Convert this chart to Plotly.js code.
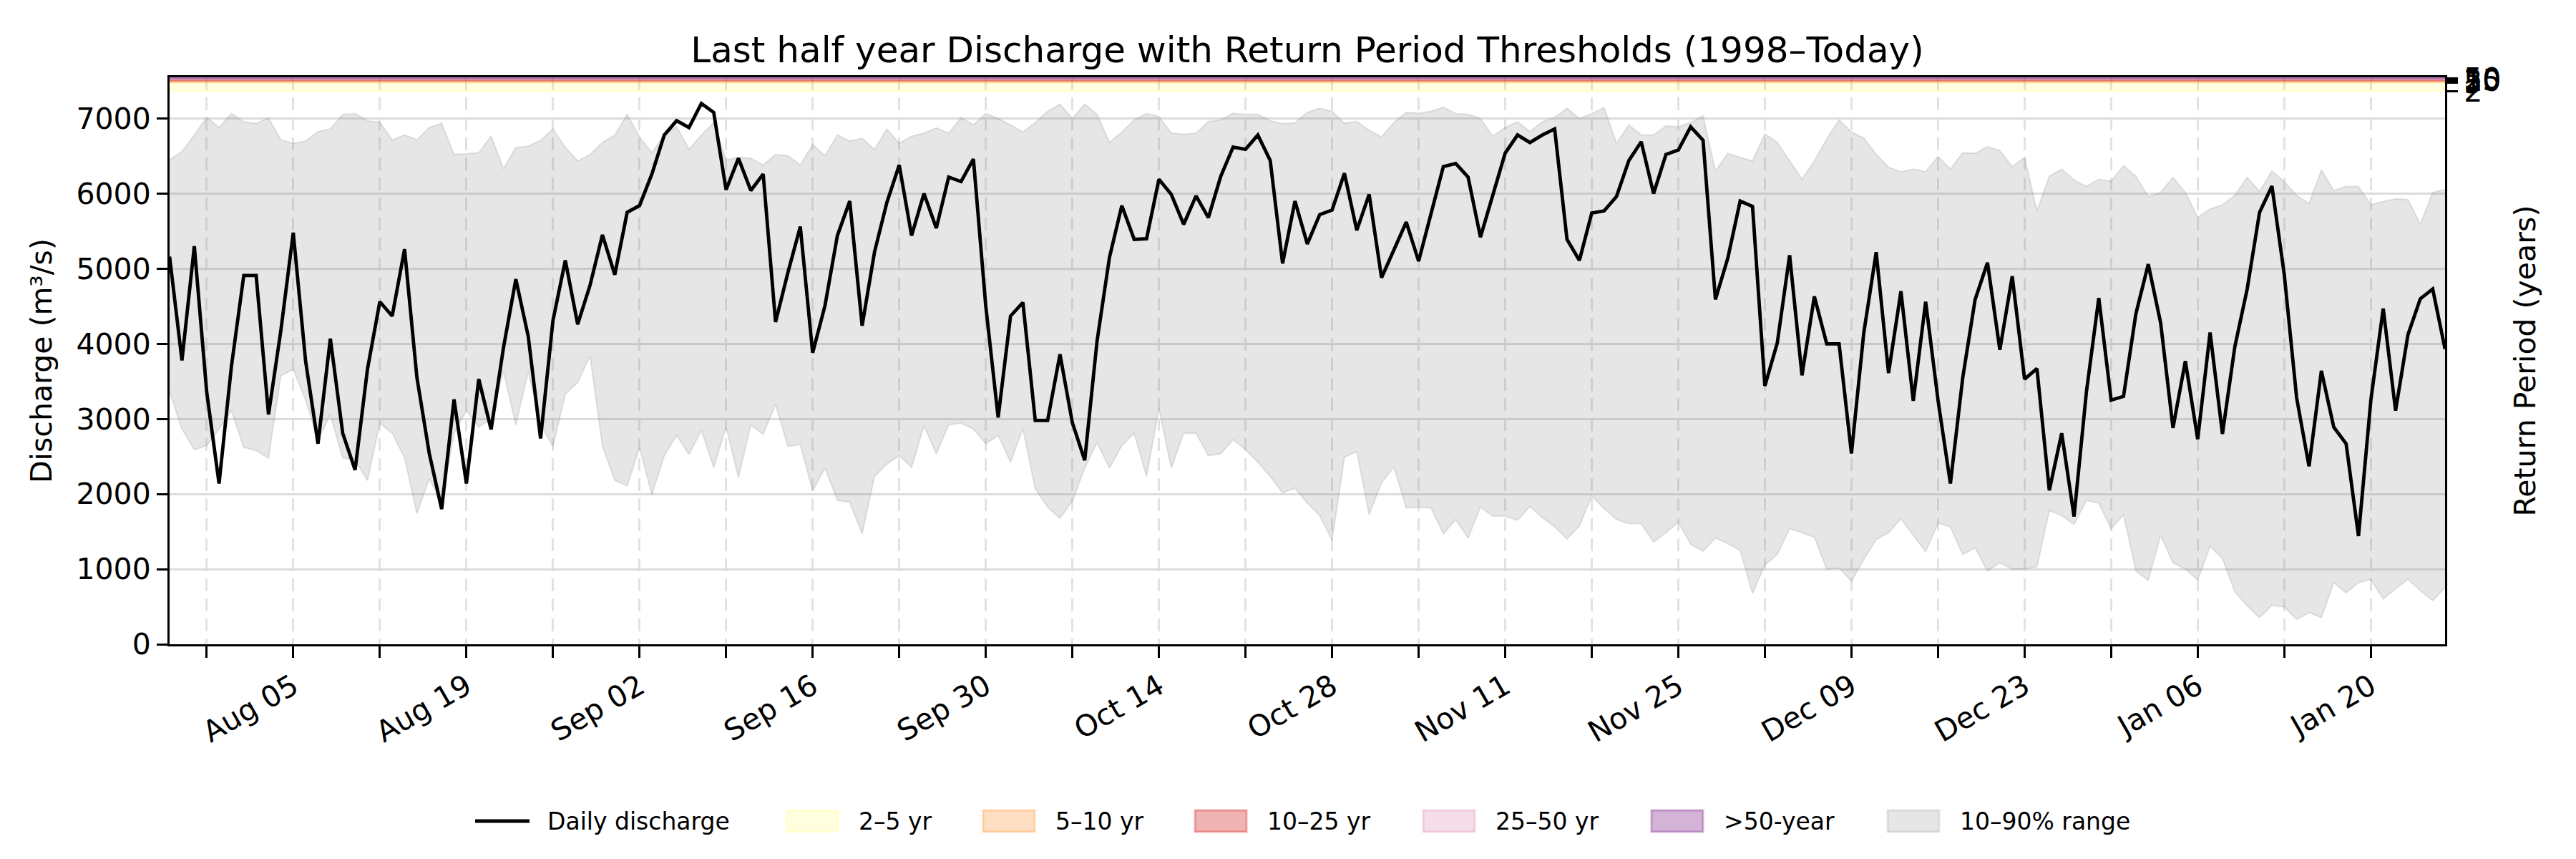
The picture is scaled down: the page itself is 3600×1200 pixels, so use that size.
<!DOCTYPE html>
<html>
<head>
<meta charset="utf-8">
<script src="https://cdn.plot.ly/plotly-3.0.1.min.js"></script>
<style>
  html, body { margin: 0; padding: 0; background: #fff; }
  #chart { width: 3600px; height: 1200px; }
</style>
</head>
<body>
<div id="chart"></div>
<script>
// daily values, first day 2024-07-26
var startDate = "2024-07-26";

var discharge = [
  5160, 3780, 5300, 3360, 2140, 3700, 4910, 4910, 3060, 4180,
  5480, 3770, 2670, 4070, 2810, 2320, 3660, 4560, 4370, 5260,
  3550, 2540, 1800, 3260, 2140, 3530, 2860, 3950, 4860, 4100,
  2740, 4310, 5110, 4260, 4780, 5450, 4920, 5750, 5840, 6260,
  6780, 6970, 6880, 7200, 7080, 6050, 6470, 6040, 6260, 4290,
  4950, 5560, 3880, 4510, 5440, 5900, 4240, 5220, 5880, 6380,
  5440, 6000, 5540, 6220, 6160, 6460, 4500, 3020, 4370, 4550,
  2980, 2980, 3860, 2950, 2450, 4040, 5150, 5840, 5390, 5400,
  6190, 5990, 5590, 5970, 5680, 6230, 6620, 6590, 6780, 6440,
  5070, 5900, 5330, 5720, 5780, 6270, 5510, 5990, 4880, 5250,
  5620, 5100, 5730, 6360, 6400, 6220, 5420, 5990, 6540, 6780,
  6680, 6780, 6860, 5390, 5110, 5740, 5770, 5960, 6440, 6690,
  6000, 6520, 6580, 6890, 6710, 4590, 5140, 5900, 5830, 3440,
  4010, 5180, 3580, 4630, 4000, 4000, 2540, 4150, 5220, 3610,
  4700, 3240, 4560, 3250, 2140, 3550, 4590, 5080, 3920, 4900,
  3530, 3670, 2050, 2810, 1700, 3360, 4610, 3250, 3300, 4400,
  5060, 4280, 2880, 3770, 2730, 4150, 2800, 3960, 4730, 5750,
  6100, 4920, 3280, 2370, 3640, 2890, 2670, 1440, 3250, 4470,
  3110, 4120, 4600, 4730, 3930
];

var p90 = [
  6450, 6560, 6780, 7015, 6880, 7065, 6955, 6935, 7010, 6715,
  6670, 6700, 6825, 6860, 7055, 7065, 6970, 6950, 6715, 6780,
  6715, 6880, 6935, 6520, 6530, 6545, 6765, 6330, 6615, 6630,
  6710, 6860, 6615, 6435, 6520, 6680, 6780, 7055, 6755, 6545,
  6780, 6890, 6590, 6780, 6945, 6450, 6480, 6470, 6380, 6520,
  6505, 6380, 6655, 6505, 6780, 6700, 6735, 6590, 6860, 6670,
  6765, 6805, 6875, 6805, 7010, 6915, 7065, 7000, 6915, 6820,
  6945, 7095, 7190, 7000, 7190, 7055, 6680, 6820, 6980, 7065,
  7025, 6805, 6790, 6805, 6960, 6980, 7070, 7055, 7055, 6970,
  6930, 6940, 7080, 7135, 7095, 6935, 6960, 6845, 6755, 6945,
  7080, 7070, 7095, 7150, 7065, 7055, 7000, 6765, 6880, 6955,
  6825, 6955, 7015, 7135, 7000, 7065, 7145, 6670, 6915, 6780,
  6780, 6900, 6890, 6945, 7035, 6300, 6535, 6480, 6435, 6795,
  6680, 6435, 6195, 6435, 6725, 6980, 6820, 6740, 6525, 6350,
  6290, 6325, 6290, 6495, 6325, 6545, 6535, 6625, 6570, 6360,
  6480, 5770, 6230, 6325, 6180, 6095, 6190, 6165, 6370, 6230,
  5960, 6015, 6215, 6015, 5685, 5795, 5850, 5975, 6215, 6030,
  6300, 6160, 5975, 5865, 6315, 6040, 6095, 6095, 5850, 5895,
  5930, 5920, 5590, 6015, 6055
];

var p10 = [
  3360, 2865, 2590, 2645, 2865, 3110, 2620, 2580, 2480, 3575,
  3660, 3250, 2725, 3055, 2480, 2455, 2180, 2945, 2810, 2480,
  1740, 2205, 1880, 2810, 3110, 2890, 3000, 3630, 2920, 3630,
  2920, 2635, 3330, 3485, 3840, 2640, 2180, 2110, 2620, 1990,
  2510, 2780, 2525, 2850, 2355, 2890, 2220, 2920, 2795, 3195,
  2635, 2660, 2045, 2345, 1915, 1890, 1470, 2235, 2400, 2510,
  2355, 2910, 2535, 2920, 2945, 2865, 2670, 2780, 2425, 2870,
  2070, 1825, 1675, 1905, 2345, 2685, 2345, 2645, 2810, 2235,
  3140, 2345, 2810, 2810, 2510, 2535, 2725, 2590, 2425, 2235,
  2015, 2080, 1880, 1715, 1385, 2490, 2565, 1725, 2150, 2360,
  1815, 1825, 1815, 1470, 1660, 1415, 1825, 1705, 1705, 1650,
  1835, 1685, 1565, 1400, 1575, 1975, 1805, 1660, 1605, 1605,
  1360, 1485, 1630, 1330, 1240, 1415, 1340, 1250, 675, 1055,
  1195, 1540, 1485, 1425, 1000, 1015, 840, 1130, 1395, 1485,
  1670, 1450, 1230, 1615, 1560, 1195, 1285, 975, 1085, 1000,
  1000, 1030, 1780, 1715, 1595, 1915, 1880, 1535, 1725, 975,
  850, 1450, 1085, 1000, 855, 1305, 1140, 700, 510, 355,
  520, 495, 330, 420, 355, 820, 685, 820, 865, 600,
  740, 865, 715, 580, 755
];

// return period thresholds (m3/s)
var rpYears = [2, 5, 10, 25, 50];
var rpLevels = [7360, 7478, 7500, 7515, 7530];
var rpTop = 7548;
var bandNames = ["2–5 yr", "5–10 yr", "10–25 yr", "25–50 yr", ">50-year"];
var bandColors = [
  "rgba(255,255,0,0.12)",
  "rgba(255,127,14,0.25)",
  "rgba(214,39,40,0.35)",
  "rgba(220,120,170,0.25)",
  "rgba(128,40,140,0.35)"
];
var rangeColor = "rgba(128,128,128,0.2)";

var tickDates = [
  "2024-07-29", "2024-08-05", "2024-08-12", "2024-08-19", "2024-08-26",
  "2024-09-02", "2024-09-09", "2024-09-16", "2024-09-23", "2024-09-30",
  "2024-10-07", "2024-10-14", "2024-10-21", "2024-10-28", "2024-11-04",
  "2024-11-11", "2024-11-18", "2024-11-25", "2024-12-02", "2024-12-09",
  "2024-12-16", "2024-12-23", "2024-12-30", "2025-01-06", "2025-01-13",
  "2025-01-20"
];
var tickText = [
  "", "Aug 05", "", "Aug 19", "", "Sep 02", "", "Sep 16", "", "Sep 30",
  "", "Oct 14", "", "Oct 28", "", "Nov 11", "", "Nov 25", "", "Dec 09",
  "", "Dec 23", "", "Jan 06", "", "Jan 20"
];

var dates = [];
var t0 = new Date(startDate + "T00:00:00Z");
for (var i = 0; i < discharge.length; i++) {
  var d = new Date(t0.getTime() + i * 86400000);
  dates.push(d.toISOString().slice(0, 10));
}
var first = dates[0], last = dates[dates.length - 1];

var W = 3600, H = 1200;
var M = {l: 237, r: 183, t: 108, b: 300};
var plotW = W - M.l - M.r, plotH = H - M.t - M.b;
function px(x) { return (x - M.l) / plotW; }
function py(y) { return (H - M.b - y) / plotH; }

var traces = [];

// 10-90% range
traces.push({
  x: dates, y: p90, type: "scatter", mode: "lines",
  line: {color: rangeColor, width: 2},
  showlegend: false, hoverinfo: "skip"
});
traces.push({
  x: dates, y: p10, type: "scatter", mode: "lines",
  fill: "tonexty", fillcolor: rangeColor,
  line: {color: rangeColor, width: 2},
  showlegend: false, hoverinfo: "skip"
});

// return period bands
var bandEdges = rpLevels.concat([rpTop]);
for (var b = 0; b < bandNames.length; b++) {
  traces.push({
    x: [first, last, last, first, first],
    y: [bandEdges[b], bandEdges[b], bandEdges[b + 1], bandEdges[b + 1], bandEdges[b]],
    type: "scatter", mode: "lines", fill: "toself",
    fillcolor: bandColors[b],
    line: {color: bandColors[b], width: 2},
    showlegend: false, hoverinfo: "skip"
  });
}

traces.push({
  x: dates, y: discharge, type: "scatter", mode: "lines",
  line: {color: "#000000", width: 4.8},
  showlegend: false
});

// carries the right axis
traces.push({
  x: [first, last], y: [rpLevels[0], rpLevels[0]], yaxis: "y2",
  type: "scatter", mode: "lines", line: {width: 0},
  showlegend: false, hoverinfo: "skip"
});

// legend drawn below the plot, matplotlib style
var legendNames = ["Daily discharge"].concat(bandNames, ["10–90% range"]);
var legendFills = [null].concat(bandColors, [rangeColor]);
var legendX = [664, 1099, 1374, 1670, 1989, 2308, 2638];
var legendY = 1147;
var shapes = [], annotations = [];
for (var k = 0; k < legendNames.length; k++) {
  var x0 = legendX[k];
  if (legendFills[k] === null) {
    shapes.push({
      type: "line", xref: "paper", yref: "paper",
      x0: px(x0), x1: px(x0 + 76), y0: py(legendY), y1: py(legendY),
      line: {color: "#000", width: 4.8}
    });
  } else {
    shapes.push({
      type: "rect", xref: "paper", yref: "paper",
      x0: px(x0), x1: px(x0 + 72), y0: py(legendY - 15), y1: py(legendY + 15),
      fillcolor: legendFills[k],
      line: {color: legendFills[k], width: 3}
    });
  }
  annotations.push({
    text: legendNames[k], xref: "paper", yref: "paper",
    x: px(x0 + 99), y: py(legendY), xanchor: "left", yanchor: "middle",
    showarrow: false, font: {size: 33}
  });
}

var font = "DejaVu Sans, sans-serif";

var layout = {
  width: W, height: H,
  paper_bgcolor: "#ffffff", plot_bgcolor: "#ffffff",
  margin: M,
  font: {family: font, color: "#000", size: 41},
  title: {
    text: "Last half year Discharge with Return Period Thresholds (1998–Today)",
    font: {family: font, size: 50, color: "#000"},
    x: 0.5, xref: "paper", xanchor: "center",
    y: 1 - 69 / H, yref: "container", yanchor: "middle"
  },
  xaxis: {
    type: "date",
    range: [first, last],
    tickmode: "array", tickvals: tickDates, ticktext: tickText,
    tickangle: -30,
    ticks: "outside", ticklen: 16, tickwidth: 3, tickcolor: "#000",
    tickfont: {size: 41},
    showgrid: true, gridcolor: "#e2e2e2", gridwidth: 3, griddash: "18px,10px",
    showline: true, linecolor: "#000", linewidth: 3, mirror: true,
    zeroline: false
  },
  yaxis: {
    range: [0, rpTop],
    tickmode: "array", tickvals: [0, 1000, 2000, 3000, 4000, 5000, 6000, 7000],
    ticks: "outside", ticklen: 15, tickwidth: 3, tickcolor: "#000",
    tickfont: {size: 41},
    showgrid: true, gridcolor: "#dcdcdc", gridwidth: 3,
    showline: true, linecolor: "#000", linewidth: 3,
    zeroline: false,
    title: {text: "Discharge (m³/s)", font: {size: 41}, standoff: 22}
  },
  yaxis2: {
    overlaying: "y", side: "right",
    range: [0, rpTop],
    tickmode: "array", tickvals: rpLevels, ticktext: rpYears.map(String),
    ticks: "outside", ticklen: 15, tickwidth: 3, tickcolor: "#000",
    tickfont: {size: 41},
    showgrid: false, zeroline: false,
    showline: true, linecolor: "#000", linewidth: 3,
    title: {text: "Return Period (years)", font: {size: 41}, standoff: 20}
  },
  showlegend: false,
  shapes: shapes,
  annotations: annotations
};

Plotly.newPlot("chart", traces, layout, {staticPlot: true, displayModeBar: false});
</script>
</body>
</html>
